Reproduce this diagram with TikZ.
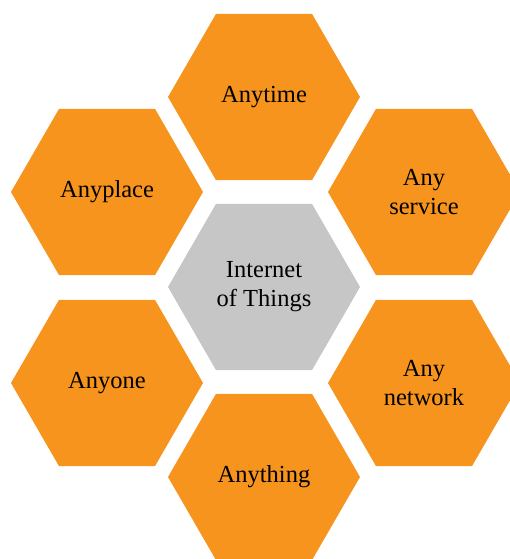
\documentclass[tikz,border=0pt]{standalone}
\usepackage{fontspec}
\setmainfont{Liberation Serif}
\usepackage{tikz}
\usetikzlibrary{shapes.geometric,positioning}

\definecolor{hexorange}{HTML}{F7941D}
\definecolor{hexgray}{HTML}{C6C6C6}

\begin{document}
\begin{tikzpicture}[on grid,node distance=190pt,
    hex/.style={regular polygon,regular polygon sides=6,minimum size=192pt,
      fill=hexorange,align=center,font=\fontsize{24.5}{29}\selectfont}]
  \useasboundingbox (0,0) rectangle (510pt,559pt);

  \node[hex,fill=hexgray] (iot) at (264pt,272pt) {Internet\\of Things};

  \node[hex] (time) [above=of iot] {Anytime};
  \node[hex] (thing) [below=of iot] {Anything};

  \node[hex] (place) [above left=95pt and 157pt of iot] {Anyplace};
  \node[hex] (one) [below left=96pt and 157pt of iot] {Anyone};

  \node[hex] (service) [above right=95pt and 160pt of iot] {Any\\service};
  \node[hex] (network) [below right=96pt and 160pt of iot] {Any\\network};
\end{tikzpicture}
\end{document}
